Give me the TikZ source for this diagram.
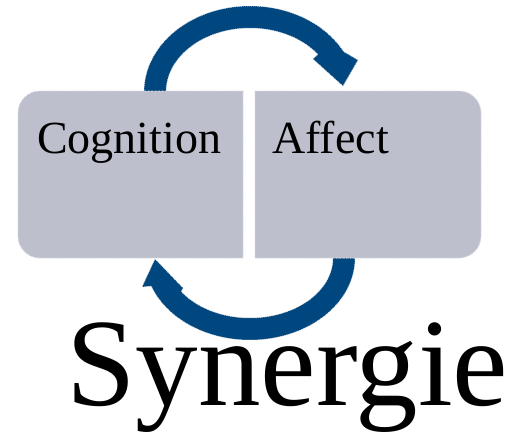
\documentclass[tikz,border=0pt]{standalone}
\usepackage{fontspec}
\setmainfont{Liberation Serif}
\definecolor{arrowblue}{RGB}{0,70,127}
\definecolor{boxgray}{RGB}{189,192,204}
\definecolor{boxedge}{RGB}{215,218,226}
\tikzset{
  boxshape/.style={fill=boxgray, draw=boxedge, line width=0.9pt, dash pattern=on 2pt off 1.5pt},
  cyclearrow/.style={fill=arrowblue, draw=boxedge, line width=0.5pt, dash pattern=on 1pt off 1pt},
  boxlabel/.style={anchor=base west, inner sep=0pt, font=\fontsize{46}{50}\selectfont},
  titlelabel/.style={anchor=base west, inner sep=0pt, font=\fontsize{125}{130}\selectfont}
}
\begin{document}
\begin{tikzpicture}[x=1pt,y=-1pt]
\useasboundingbox (0,0) rectangle (517,432);
% top circular arrow
\path[cyclearrow] (144,92)
  -- plot[domain=180:332, samples=60] ({250+106*cos(\x)},{92+86*sin(\x)})
  -- (358,60) -- (343,86) -- (313,59)
  -- plot[domain=324:180, samples=60] ({250+84*cos(\x)},{92+64*sin(\x)})
  -- cycle;
% bottom circular arrow
\path[cyclearrow] (355,258)
  -- plot[domain=0:160, samples=60] ({250+105*cos(\x)},{258+82*sin(\x)})
  -- (142,287) -- (155,259) -- (183,288)
  -- plot[domain=146:0, samples=60] ({250+83*cos(\x)},{258+60*sin(\x)})
  -- cycle;
% boxes
\path[boxshape] (130,91) [rounded corners=22pt] -- (18,91) -- (18,258) -- (130,258) [sharp corners] -- (243,258) -- (243,91) -- cycle;
\path[boxshape] (370,91) [rounded corners=22pt] -- (481,91) -- (481,258) -- (370,258) [sharp corners] -- (255,258) -- (255,91) -- cycle;
\node[boxlabel] (cog) at (37,153) {Cognition};
\node[boxlabel] (aff) at (272,153) {Affect};
\node[titlelabel] (syn) at (66,405) {Synergie};
\end{tikzpicture}
\end{document}
